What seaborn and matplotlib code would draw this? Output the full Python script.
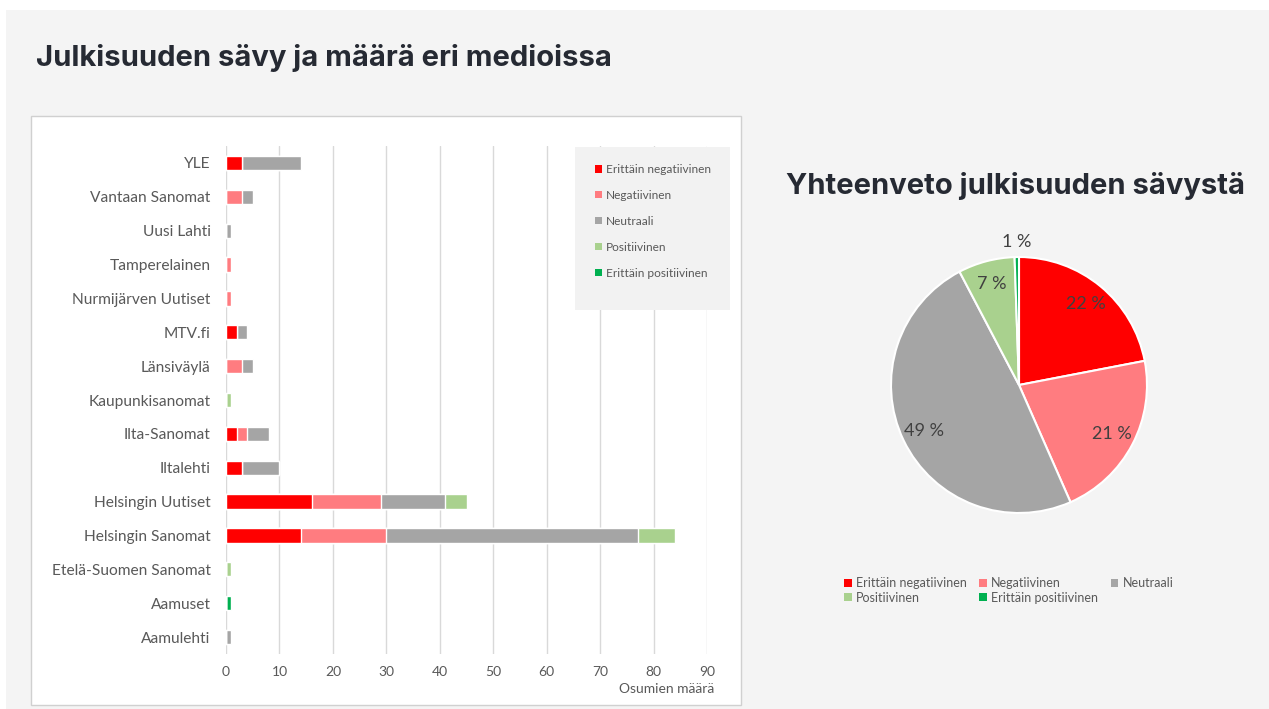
import matplotlib
matplotlib.use("Agg")
import matplotlib.pyplot as plt
from matplotlib.patches import Rectangle, Patch
import numpy as np
import pandas as pd
import seaborn as sns

# data
media = ["YLE", "Vantaan Sanomat", "Uusi Lahti", "Tamperelainen", "Nurmijärven Uutiset",
         "MTV.fi", "Länsiväylä", "Kaupunkisanomat", "Ilta-Sanomat", "Iltalehti",
         "Helsingin Uutiset", "Helsingin Sanomat", "Etelä-Suomen Sanomat", "Aamuset", "Aamulehti"]
tones = ["Erittäin negatiivinen", "Negatiivinen", "Neutraali", "Positiivinen", "Erittäin positiivinen"]
erittain_negatiivinen = [3, 0, 0, 0, 0, 2, 0, 0, 2, 3, 16, 14, 0, 0, 0]
negatiivinen = [0, 3, 0, 1, 1, 0, 3, 0, 2, 0, 13, 16, 0, 0, 0]
neutraali = [11, 2, 1, 0, 0, 2, 2, 0, 4, 7, 12, 47, 0, 0, 1]
positiivinen = [0, 0, 0, 0, 0, 0, 0, 1, 0, 0, 4, 7, 1, 0, 0]
erittain_positiivinen = [0, 0, 0, 0, 0, 0, 0, 0, 0, 0, 0, 0, 0, 1, 0]
tone_colors = ["#ff0000", "#ff7c80", "#a5a5a5", "#a9d18e", "#00b050"]

sns.set_theme(style="white")
plt.rcParams['font.family'] = ['Lato', 'DejaVu Sans']
title_font = ['Inter', 'DejaVu Sans']
txt = "#595959"

W, H = 1269, 709
fig = plt.figure(figsize=(W / 100, H / 100), dpi=100)
fig.patch.set_facecolor("white")
fig.patches.append(Rectangle((6 / W, 0), 1, 1 - 10 / H, transform=fig.transFigure,
                             facecolor="#f4f4f4", edgecolor="none", zorder=-10))
# white card behind the bar chart
fig.patches.append(Rectangle((31 / W, 4 / H), 710 / W, 589 / H, transform=fig.transFigure,
                             facecolor="white", edgecolor="#d0d0d0", lw=1, zorder=-9))

fig.text(36 / W, 1 - 58 / H, "Julkisuuden sävy ja määrä eri medioissa", fontsize=21,
         fontweight="bold", color="#262a33", family=title_font, va="center", ha="left")

# stacked bars
df = pd.DataFrame({"media": media})
series = [erittain_negatiivinen, negatiivinen, neutraali, positiivinen, erittain_positiivinen]
cum = np.cumsum(np.array(series), axis=0)

ax = fig.add_axes([226 / W, 1 - 654 / H, (707 - 226) / W, (654 - 146) / H])
ax.set_facecolor("none")
for k in range(len(tones) - 1, -1, -1):
    df["total"] = cum[k]
    sns.barplot(data=df, x="total", y="media", orient="h", color=tone_colors[k],
                width=0.42, saturation=1, ax=ax, zorder=3)
ax.set_xlim(0, 90)
ax.set_xticks(range(0, 91, 10))
ax.grid(axis="x", color="#d9d9d9", lw=1, zorder=0)
ax.grid(axis="y", visible=False)
for s in ax.spines.values():
    s.set_visible(False)
ax.tick_params(axis="y", length=0, pad=11, labelsize=11.2, labelcolor=txt)
ax.tick_params(axis="x", length=0, pad=9, labelsize=10, labelcolor=txt)
ax.set_ylabel("")
ax.set_xlabel("Osumien määrä", loc="right", fontsize=10, color=txt)
ax.xaxis.set_label_coords(1.015, -0.058)

# legend box inside bar chart
ax.add_patch(Rectangle((575 / W, 1 - 310 / H), 155 / W, 163 / H, transform=fig.transFigure,
                       facecolor="#f2f2f2", edgecolor="none", zorder=4, clip_on=False))
handles = [Patch(facecolor=c, edgecolor="none") for c in tone_colors]
leg = ax.legend(handles, tones, loc="upper left", bbox_to_anchor=(589 / W, 1 - 158 / H),
                bbox_transform=fig.transFigure, frameon=False, fontsize=8.6,
                labelcolor=txt, handlelength=0.6, handleheight=0.6, handletextpad=0.3,
                labelspacing=1.25, borderpad=0)
leg.set_zorder(10)

# pie chart
totals = [sum(s) for s in series]
fig.text(1015 / W, 1 - 186 / H, "Yhteenveto julkisuuden sävystä", fontsize=21,
         fontweight="bold", color="#262a33", family=title_font, va="center", ha="center")
pax = fig.add_axes([(1019 - 128) / W, (709 - 385 - 128) / H, 256 / W, 256 / H])
wedges, _ = pax.pie(totals, colors=tone_colors, startangle=90, counterclock=False,
                    wedgeprops=dict(edgecolor="white", linewidth=1.5))
pax.set_xlim(-1, 1)
pax.set_ylim(-1, 1)
pax.set_aspect("equal")
tot = sum(totals)
for w, v in zip(wedges, totals):
    ang = np.deg2rad((w.theta1 + w.theta2) / 2)
    r = 0.82 if v / tot > 0.03 else 1.12
    pax.text(r * np.cos(ang), r * np.sin(ang), f"{round(100 * v / tot)} %", ha="center",
             va="center", fontsize=13, color="#404040", clip_on=False)

# legend rows go left to right like in the reference
order = [0, 3, 1, 4, 2]
fig.legend([handles[i] for i in order], [tones[i] for i in order], loc="upper left",
           bbox_to_anchor=(838 / W, 1 - 571 / H), ncol=3, frameon=False, fontsize=9,
           labelcolor=txt, handlelength=0.6, handleheight=0.6, handletextpad=0.35,
           columnspacing=1.0, labelspacing=0.2, borderpad=0)

fig.savefig("out.png", dpi=100, facecolor=fig.get_facecolor())
